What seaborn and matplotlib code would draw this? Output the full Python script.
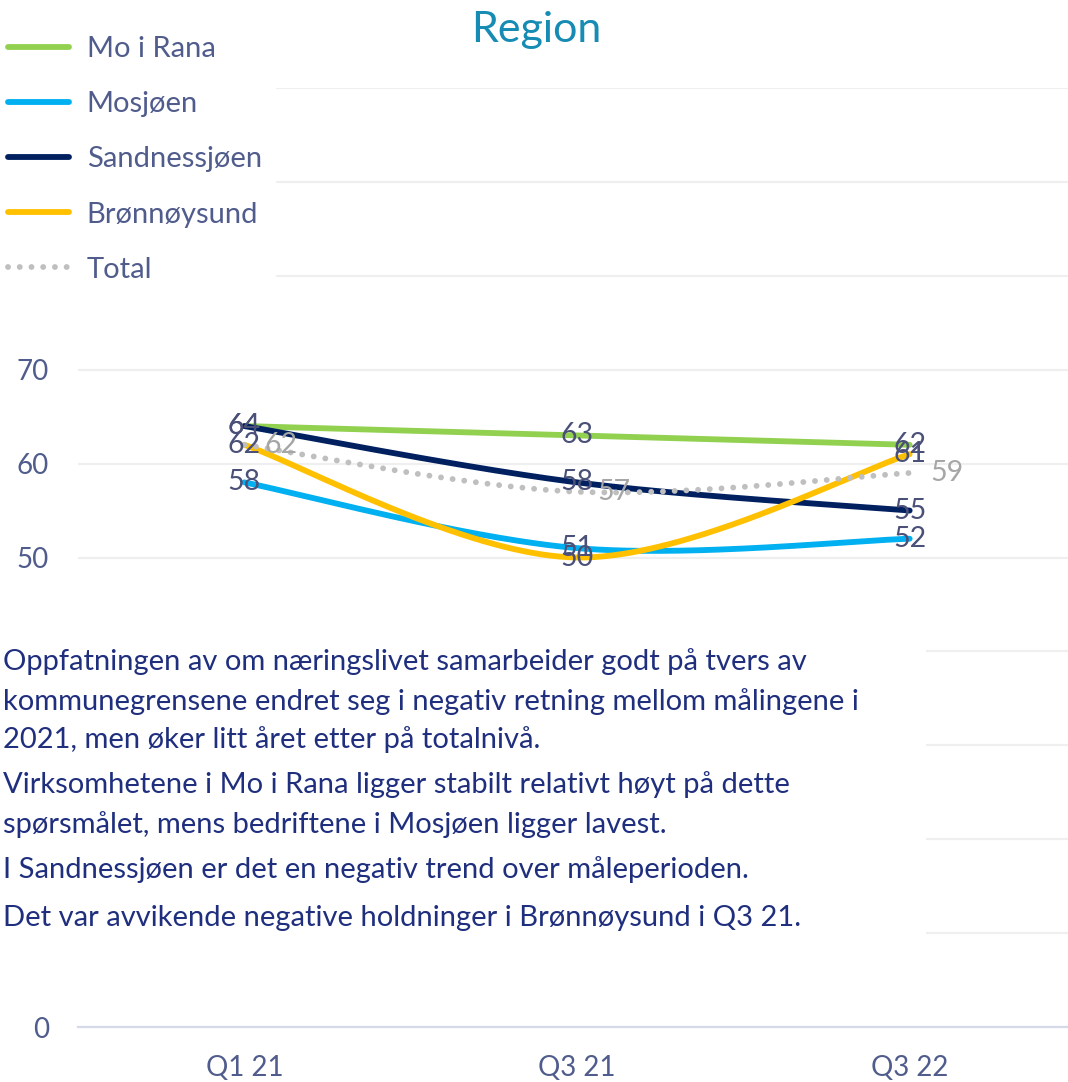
import numpy as np
import pandas as pd
import matplotlib
matplotlib.use("Agg")
import matplotlib.pyplot as plt
from matplotlib.lines import Line2D
from matplotlib.patches import Rectangle
import seaborn as sns

# ---------------- data ----------------
periods = ["Q1 21", "Q3 21", "Q3 22"]
mo_i_rana = [64, 63, 62]
mosjoen = [58, 51, 52]
sandnessjoen = [64, 58, 55]
bronnoysund = [62, 50, 61]
total = [62, 57, 59]

series_names = ["Mo i Rana", "Mosjøen", "Sandnessjøen", "Brønnøysund", "Total"]
series_values = [mo_i_rana, mosjoen, sandnessjoen, bronnoysund, total]
series_colors = ["#92D050", "#00B0F0", "#002060", "#FFC000", "#BFBFBF"]

y_ticks = list(range(0, 101, 10))
y_tick_labels = ["0", "", "", "", "", "50", "60", "70", "", "", ""]

title_text = "Region"
comment_lines = [
    "Oppfatningen av om næringslivet samarbeider godt på tvers av",
    "kommunegrensene endret seg i negativ retning mellom målingene i",
    "2021, men øker litt året etter på totalnivå.",
    "Virksomhetene i Mo i Rana ligger stabilt relativt høyt på dette",
    "spørsmålet, mens bedriftene i Mosjøen ligger lavest.",
    "I Sandnessjøen er det en negativ trend over måleperioden.",
    "Det var avvikende negative holdninger i Brønnøysund i Q3 21.",
]
comment_baselines_px = [670, 710, 748, 793, 833, 878, 926]

# ---------------- style ----------------
sns.set_theme(style="white")
plt.rcParams["font.family"] = ["Lato", "DejaVu Sans"]

W, H = 1068, 1082
fig = plt.figure(figsize=(W / 100, H / 100), dpi=100)
ax = fig.add_axes([78 / W, 1 - 1027 / H, (1076 - 78) / W, (1027 - 88) / H])

tick_color = "#505C8C"
label_color = "#4A5078"
LW = 4.2


def smooth_curve(values, n=80):
    """Excel-style smoothed line (Catmull-Rom Bezier) through the points."""
    x = np.arange(len(values), dtype=float)
    y = np.asarray(values, dtype=float)
    px = np.concatenate([[x[0]], x, [x[-1]]])
    py = np.concatenate([[y[0]], y, [y[-1]]])
    t = np.linspace(0, 1, n)[:, None]
    pts = []
    for i in range(len(values) - 1):
        p0 = np.array([x[i], y[i]])
        p3 = np.array([x[i + 1], y[i + 1]])
        c1 = p0 + np.array([px[i + 2] - px[i], py[i + 2] - py[i]]) / 6
        c2 = p3 - np.array([px[i + 3] - px[i + 1], py[i + 3] - py[i + 1]]) / 6
        seg = ((1 - t) ** 3) * p0 + 3 * ((1 - t) ** 2) * t * c1 + 3 * (1 - t) * t ** 2 * c2 + t ** 3 * p3
        pts.append(seg if i == 0 else seg[1:])
    pts = np.vstack(pts)
    return pts[:, 0], pts[:, 1]


for name, vals, col in zip(series_names, series_values, series_colors):
    cx, cy = smooth_curve(vals)
    df = pd.DataFrame({"x": cx, "y": cy})
    sns.lineplot(data=df, x="x", y="y", ax=ax, color=col, linewidth=LW,
                 sort=False, estimator=None, legend=False,
                 solid_capstyle="round")
    if name == "Total":
        ln = ax.lines[-1]
        ln.set_linestyle((0, (0.01, 2.0)))
        ln.set_dash_capstyle("round")

# data labels
for name, vals, col in zip(series_names, series_values, series_colors):
    for i, v in enumerate(vals):
        if name == "Total":
            ax.annotate(str(v), (i, v), xytext=(26.6, 0), textcoords="offset points",
                        ha="center", va="center", fontsize=20.5, color="#A6A6A6", zorder=6)
        else:
            ax.annotate(str(v), (i, v), xytext=(0, 0), textcoords="offset points",
                        ha="center", va="center", fontsize=20.5, color=label_color, zorder=6)

ax.set_xlim(-0.5, 2.5)
ax.set_ylim(0, 100)
ax.set_xticks(range(len(periods)))
ax.set_xticklabels(periods)
ax.set_yticks(y_ticks)
ax.set_yticklabels(y_tick_labels)
ax.set_xlabel("")
ax.set_ylabel("")
ax.tick_params(axis="y", length=0, pad=21, labelsize=20, labelcolor=tick_color)
ax.tick_params(axis="x", length=0, pad=20, labelsize=20, labelcolor=tick_color)
ax.set_axisbelow(True)
ax.grid(axis="y", color="#EFEFEF", linewidth=1.6)
ax.grid(axis="x", visible=False)
for s in ["left", "right", "top"]:
    ax.spines[s].set_visible(False)
ax.spines["bottom"].set_color("#D5D9E8")
ax.spines["bottom"].set_linewidth(1.6)

# white boxes covering part of the gridlines (legend box and text box)
ax.add_patch(Rectangle((0, 1 - 300 / H), 276 / W, 300 / H, transform=fig.transFigure,
                       facecolor="white", edgecolor="none", zorder=1, clip_on=False))
ax.add_patch(Rectangle((0, 1 - 950 / H), 926 / W, (950 - 640) / H, transform=fig.transFigure,
                       facecolor="white", edgecolor="none", zorder=1, clip_on=False))

# legend
handles = []
for name, col in zip(series_names, series_colors):
    if name == "Total":
        h = Line2D([], [], color=col, linewidth=LW, linestyle=(0, (0.01, 2.0)),
                   dash_capstyle="round")
    else:
        h = Line2D([], [], color=col, linewidth=LW, solid_capstyle="round")
    handles.append(h)
leg = ax.legend(handles, series_names, loc="upper left",
                bbox_to_anchor=(8 / W, 1 - 36 / H), bbox_transform=fig.transFigure,
                frameon=False, fontsize=21, labelcolor=tick_color,
                handlelength=2.1, handletextpad=0.6, labelspacing=1.0,
                borderpad=0, borderaxespad=0)
leg.set_zorder(7)

# title
fig.text(536 / W, 1 - 42 / H, title_text, ha="center", va="baseline",
         fontsize=31, color="#168BB3")

# comment text
for line, bl in zip(comment_lines, comment_baselines_px):
    fig.text(3 / W, 1 - bl / H, line, ha="left", va="baseline",
             fontsize=21, color="#1F2F7E", zorder=8)

fig.savefig("out.png", dpi=100)
